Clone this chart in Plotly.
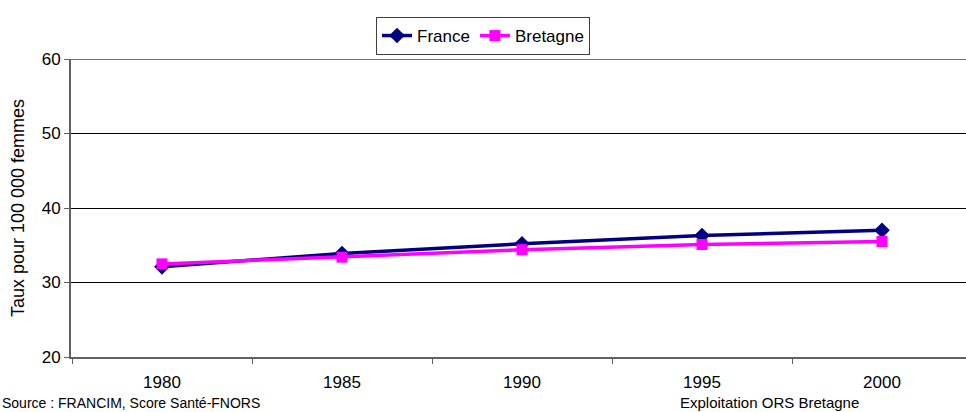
import plotly.graph_objects as go

years = [1980, 1985, 1990, 1995, 2000]
france = [32.1, 33.9, 35.2, 36.3, 37.0]
bretagne = [32.5, 33.4, 34.4, 35.1, 35.5]
y_ticks = [20, 30, 40, 50, 60]
y_title = "Taux pour 100 000 femmes"
source_left = "Source : FRANCIM, Score Santé-FNORS"
source_right = "Exploitation ORS Bretagne"

W, H = 966, 412
L, T, B = 71, 59, 55
pw = W - L
ph = H - T - B

# x scale: 36 px per year, 1980 at pixel 162
x0 = 1980 - (162 - L) / 36.0
x1 = x0 + pw / 36.0

FONT = "Liberation Sans, Arial, sans-serif"

fig = go.Figure()
fig.add_trace(go.Scatter(
    x=years, y=france, name="France", mode="lines+markers",
    line=dict(color="#000080", width=3.5),
    marker=dict(symbol="diamond", size=12, color="#000080"),
))
fig.add_trace(go.Scatter(
    x=years, y=bretagne, name="Bretagne", mode="lines+markers",
    line=dict(color="#FF00FF", width=3.5),
    marker=dict(symbol="square", size=11, color="#FF00FF"),
))

fig.update_layout(
    width=W, height=H,
    margin=dict(l=L, r=0, t=T, b=B, autoexpand=False),
    paper_bgcolor="white", plot_bgcolor="white",
    font=dict(family=FONT, size=17, color="black"),
    showlegend=True,
    legend=dict(
        orientation="h", xref="container", yref="container",
        x=483 / W, xanchor="center", y=1 - 17 / H, yanchor="top",
        bordercolor="#404040", borderwidth=1, bgcolor="white",
        font=dict(size=17), tracegroupgap=0, entrywidth=0,
    ),
    xaxis=dict(
        range=[x0, x1], tickvals=years, ticktext=[str(y) for y in years],
        ticks="", showgrid=False, zeroline=False, automargin=False,
        showline=True, linecolor="#606060", linewidth=2,
        ticklabelstandoff=9,
        minor=dict(tickvals=[x0 + 0.03 + 5 * i for i in range(6)], ticks="outside",
                   ticklen=5, tickcolor="#606060", showgrid=False),
        tickfont=dict(size=17),
    ),
    yaxis=dict(
        range=[20, 60], tickvals=y_ticks, ticks="outside", ticklen=5,
        tickcolor="#606060", showgrid=True, gridcolor="black", gridwidth=1,
        zeroline=False, showline=True, linecolor="#606060", linewidth=2,
        automargin=False,
        tickfont=dict(size=17),
        title=dict(text=y_title, font=dict(size=18), standoff=12),
    ),
)

fig.add_shape(type="line", xref="paper", yref="y", x0=0, x1=1, y0=60, y1=60,
              line=dict(color="#707070", width=2))

fig.add_annotation(text=source_left, xref="paper", yref="paper",
                   x=-L / pw, y=(357.5 - 413) / ph, xanchor="left", yanchor="bottom",
                   showarrow=False, font=dict(size=14))
fig.add_annotation(text=source_right, xref="paper", yref="paper",
                   x=(678 - L) / pw, y=(357.5 - 413) / ph, xanchor="left", yanchor="bottom",
                   showarrow=False, font=dict(size=15))

fig.write_html("out.html", config={"displayModeBar": False},
               post_script="document.body.style.margin='0px';")
